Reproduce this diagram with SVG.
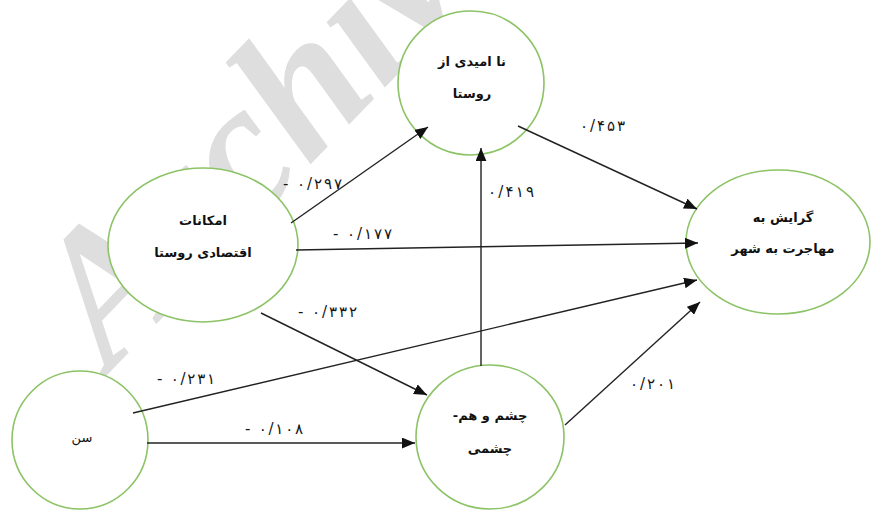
<svg xmlns="http://www.w3.org/2000/svg" width="873" height="510" viewBox="0 0 873 510">
<defs>
<marker id="arr" viewBox="0 0 12 10" refX="12" refY="5" markerWidth="13" markerHeight="11" markerUnits="userSpaceOnUse" orient="auto">
<path d="M0,0 L12,5 L0,10 Z" fill="#111"/>
</marker>
</defs>
<style>
.node{fill:#fff;stroke:#8cc366;stroke-width:1.6}
.edge{stroke:#222;stroke-width:1.4;fill:none;marker-end:url(#arr)}
.nt{font-family:"DejaVu Sans",sans-serif;font-size:13px;font-weight:bold;fill:#111;text-anchor:middle;direction:rtl}
.lb{font-family:"DejaVu Sans",sans-serif;font-size:15px;fill:#151515;direction:ltr;unicode-bidi:bidi-override}
.wm{font-family:"Liberation Serif",serif;font-size:190px;font-weight:bold;font-style:italic;fill:#dedede}
</style>
<rect width="873" height="510" fill="#fff"/>
<text class="wm" transform="translate(110,372) rotate(-46)">Archive</text>
<g id="n-hopeless"><ellipse class="node" cx="471" cy="83" rx="73" ry="72"/><text class="nt" x="472" y="66">نا امیدی از</text><text class="nt" x="472" y="98">روستا</text></g>
<g id="n-economic"><ellipse class="node" cx="203" cy="245" rx="95" ry="77"/><text class="nt" x="203" y="225">امکانات</text><text class="nt" x="203" y="257">اقتصادی روستا</text></g>
<g id="n-migration"><ellipse class="node" cx="778" cy="242" rx="92" ry="72"/><text class="nt" x="783" y="222">گرایش به</text><text class="nt" x="783" y="253">مهاجرت به شهر</text></g>
<g id="n-age"><ellipse class="node" cx="80" cy="440" rx="68" ry="69"/><text class="nt" x="82" y="442" style="font-weight:normal">سن</text></g>
<g id="n-rivalry"><ellipse class="node" cx="490" cy="437" rx="74" ry="72"/><text class="nt" x="490" y="420">چشم و هم-</text><text class="nt" x="490" y="453">چشمی</text></g>
<g id="edges">
<line class="edge" x1="291" y1="223" x2="428" y2="127"/>
<line class="edge" x1="296" y1="250" x2="698" y2="243"/>
<line class="edge" x1="261" y1="313" x2="427" y2="395"/>
<line class="edge" x1="133" y1="413" x2="697" y2="280"/>
<line class="edge" x1="147" y1="443" x2="415" y2="443"/>
<line class="edge" x1="481" y1="366" x2="481" y2="148"/>
<line class="edge" x1="518" y1="126" x2="697" y2="209"/>
<line class="edge" x1="565" y1="425" x2="700" y2="302"/>
</g>
<g id="labels">
<text class="lb" x="283" y="189" textLength="59" lengthAdjust="spacing">- ۰/۲۹۷</text>
<text class="lb" x="333" y="239" textLength="59" lengthAdjust="spacing">- ۰/۱۷۷</text>
<text class="lb" x="298" y="317" textLength="59" lengthAdjust="spacing">- ۰/۳۳۲</text>
<text class="lb" x="488" y="197" textLength="46" lengthAdjust="spacing">۰/۴۱۹</text>
<text class="lb" x="580" y="131" textLength="45" lengthAdjust="spacing">۰/۴۵۳</text>
<text class="lb" x="157" y="384" textLength="58" lengthAdjust="spacing">- ۰/۲۳۱</text>
<text class="lb" x="245" y="434" textLength="58" lengthAdjust="spacing">- ۰/۱۰۸</text>
<text class="lb" x="630" y="389" textLength="45" lengthAdjust="spacing">۰/۲۰۱</text>
</g>
</svg>
